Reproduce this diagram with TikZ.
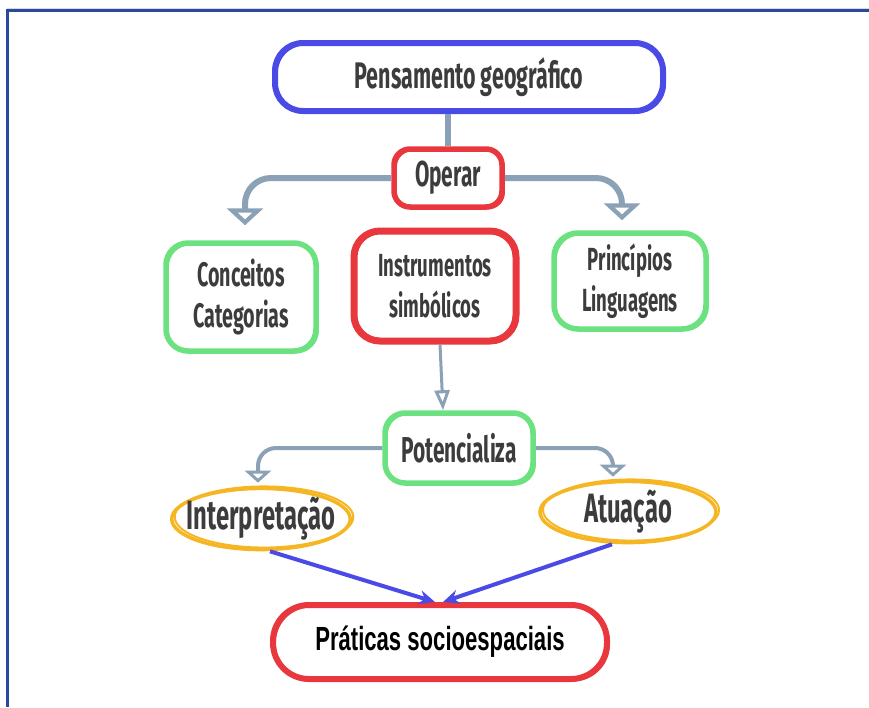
\documentclass[tikz,border=0pt]{standalone}
\usepackage{fontspec}
\newfontfamily\condfont[FakeStretch=0.58]{Fira Sans}
\newfontfamily\narrowfont[FakeStretch=0.66]{Liberation Sans}
\usetikzlibrary{arrows.meta,shapes.geometric}

\definecolor{pgblue}{HTML}{4A4AE6}
\definecolor{mapred}{HTML}{E8383D}
\definecolor{mapgreen}{HTML}{6BE27F}
\definecolor{maporange}{HTML}{F6B623}
\definecolor{linkgrey}{HTML}{8BA2B6}
\definecolor{framec}{HTML}{2C4A9B}
\definecolor{txt}{HTML}{3C3C3C}

\newcommand\cfont[1]{\condfont\bfseries\fontsize{#1}{41}\selectfont}

\tikzset{
  sketch/.style={rounded corners=18pt, line width=5.5pt, align=center, text=txt,
    inner sep=0pt, font=\cfont{34},
    postaction={draw, line width=1.8pt, transform canvas={shift={(2pt,-1.5pt)}}}},
  loop/.style={ellipse, draw=maporange, line width=3.5pt, text=txt, inner sep=0pt,
    font=\cfont{41},
    postaction={draw, line width=2pt, transform canvas={shift={(3pt,2pt)}}}},
  bigtip/.style={-{Triangle[open,width=36pt,length=17pt]}},
  smalltip/.style={-{Triangle[open,width=26pt,length=12pt]}},
  link/.style={draw=linkgrey, line width=6pt, rounded corners=26pt},
  thinlink/.style={draw=linkgrey, line width=4pt, rounded corners=18pt},
  bluearrow/.style={draw=pgblue, line width=4pt, -{Stealth[length=16pt,width=14pt]}}
}

\begin{document}
\begin{tikzpicture}[x=1pt,y=-1pt]
\useasboundingbox (0,0) rectangle (869,707);
% page frame
\draw[black!15, line width=1pt] (7,8) -- (869,8);
\draw[framec, line width=3pt] (7,707) -- (7,10) -- (869,10);

% concept boxes
\node[sketch, draw=pgblue, line width=6pt, minimum width=388pt, minimum height=68pt, rounded corners=28pt,
  font=\cfont{37}]
  (pg) at (469,77) {Pensamento geográfico};
\node[sketch, draw=mapred, minimum width=108pt, minimum height=58pt, rounded corners=16pt,
  font=\cfont{36}]
  (op) at (448,178) {Operar};
\node[sketch, draw=mapgreen, minimum width=150pt, minimum height=108pt, rounded corners=22pt]
  (cc) at (241,297) {Conceitos\\Categorias};
\node[sketch, draw=mapred, line width=7pt, minimum width=162pt, minimum height=110pt, rounded corners=26pt,
  font=\cfont{32}]
  (is) at (435,286) {Instrumentos\\simbólicos};
\node[sketch, draw=mapgreen, minimum width=152pt, minimum height=96pt, rounded corners=24pt,
  font=\cfont{32}]
  (pl) at (630,281) {Princípios\\Linguagens};
\node[sketch, draw=mapgreen, minimum width=148pt, minimum height=70pt, rounded corners=20pt,
  font=\cfont{36}]
  (pot) at (459,448) {Potencializa};
\node[loop, inner xsep=-11pt, minimum width=178pt, minimum height=60pt] (int) at (261,519) {Interpretação};
\node[loop, minimum width=176pt, minimum height=55pt] (atu) at (628,512) {Atuação};
\node[sketch, draw=mapred, line width=6pt, minimum width=334pt, minimum height=74pt, rounded corners=36pt,
  text=black, font=\narrowfont\bfseries\fontsize{33.5}{40}\selectfont]
  (ps) at (440,642) {Práticas socioespaciais};

% connectors
\draw[link] (op.north) -- (op.north |- pg.south);
\draw[link, bigtip, shorten >=15pt] (op.west) -| ([xshift=4pt]cc.north);
\draw[link, bigtip, shorten >=10pt] (op.east) -| ([xshift=-8pt]pl.north);
\draw[draw=linkgrey, line width=3pt, -{Triangle[open,width=15pt,length=20pt]}]
  ([xshift=5pt]is.south) -- ([xshift=-16pt]pot.north);
\draw[thinlink, smalltip, shorten >=4pt] (pot.west) -| ([xshift=-3pt]int.north);
\draw[thinlink, smalltip, shorten >=3pt] (pot.east) -| ([xshift=-15pt]atu.north);
\draw[bluearrow] ([xshift=9pt]int.south) -- ([xshift=-5pt]ps.north);
\draw[bluearrow] ([xshift=-16pt]atu.south) -- ([xshift=3pt]ps.north);
\end{tikzpicture}
\end{document}
